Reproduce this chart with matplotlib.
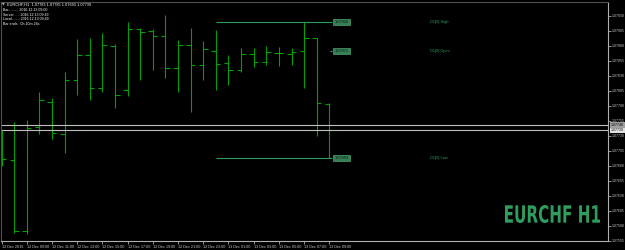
import matplotlib
matplotlib.use('Agg')
import matplotlib.pyplot as plt
import pandas as pd
from matplotlib.textpath import TextPath
from matplotlib.patches import PathPatch
from matplotlib.font_manager import FontProperties
from matplotlib.transforms import Affine2D

# EURCHF H1, 12 Dec 2016 07:00 .. 13 Dec 2016 09:00
opens  = [1.07707, 1.07690, 1.07571, 1.07745, 1.07787, 1.07733, 1.07823, 1.07865, 1.07810,
          1.07880, 1.07807, 1.07908, 1.07905, 1.07896, 1.07843, 1.07881, 1.07848, 1.07871,
          1.07851, 1.07840, 1.07866, 1.07853, 1.07868, 1.07866, 1.07871, 1.07893, 1.07783]
highs  = [1.07740, 1.07753, 1.07757, 1.07803, 1.07793, 1.07836, 1.07891, 1.07893, 1.07901,
          1.07883, 1.07920, 1.07910, 1.07908, 1.07931, 1.07890, 1.07910, 1.07888, 1.07906,
          1.07865, 1.07876, 1.07876, 1.07880, 1.07878, 1.07876, 1.07920, 1.07893, 1.07785]
lows   = [1.07679, 1.07569, 1.07566, 1.07733, 1.07725, 1.07702, 1.07798, 1.07790, 1.07803,
          1.07777, 1.07797, 1.07823, 1.07840, 1.07827, 1.07803, 1.07770, 1.07823, 1.07807,
          1.07815, 1.07836, 1.07845, 1.07848, 1.07846, 1.07848, 1.07810, 1.07730, 1.07693]
closes = [1.07692, 1.07571, 1.07743, 1.07790, 1.07735, 1.07823, 1.07865, 1.07810, 1.07881,
          1.07798, 1.07908, 1.07903, 1.07896, 1.07843, 1.07881, 1.07848, 1.07875, 1.07850,
          1.07840, 1.07866, 1.07853, 1.07870, 1.07868, 1.07870, 1.07893, 1.07785, 1.07739]
ask = 1.07748
day_start = 17  # first bar of 13 Dec
times = pd.date_range('2016-12-12 07:00', periods=len(closes), freq='h')

price_ticks = [1.07930 - 0.00025*k for k in range(16)]

green = '#00a000'
dgreen = '#2e9e5e'
small = 'Liberation Sans'

fig = plt.figure(figsize=(6.25, 2.5), dpi=100, facecolor='black')
ax = fig.add_axes([1/625, 9/250, 607/625, 239/250], facecolor='black')

px = 0.00025/15.05
ax.set_ylim(1.07930 - 225.3*px, 1.07930 + 13.7*px)
ax.set_xlim(-0.04, 48.1)

n = len(closes)
xs = list(range(n))
w = 0.36
ax.vlines(xs, lows, highs, color=green, lw=0.8)
ax.hlines(opens, [x - w for x in xs], xs, color=green, lw=0.8)
ax.hlines(closes, xs, [x + w for x in xs], color=green, lw=0.8)

# bid / ask lines
ax.axhline(closes[-1], color='#c0c0c0', lw=0.8)
ax.axhline(ask, color='#c0c0c0', lw=0.8)

# daily levels
d_high = max(highs[day_start:])
d_low = min(lows[day_start:])
d_open = opens[day_start]
xe = n - 1 + 0.2
ax.hlines([d_high, d_low], day_start, xe, color=dgreen, lw=0.8)
ax.hlines(d_open, n - 1 + 0.05, xe, color=dgreen, lw=0.8)
for v, name in [(d_high, 'High'), (d_open, 'Open'), (d_low, 'Low')]:
    ax.text(xe + 0.2, v, '%.5f' % v, fontsize=2.8, family=small, color='#0a1a10',
            va='center', ha='left',
            bbox=dict(boxstyle='square,pad=0.3', fc='#338055', ec='#4fa070', lw=0.5))
    ax.text(34.0, v, 'D1[0] ' + name, fontsize=2.8, family=small, color=dgreen,
            va='center', ha='left')

# axes styling
for s in ['left', 'top']:
    ax.spines[s].set_color('#505050')
ax.spines['right'].set_color('#b0b0b0')
ax.spines['bottom'].set_color('#b0b0b0')
ax.yaxis.tick_right()
ax.set_yticks(price_ticks)
ax.set_yticklabels(['%.5f' % v for v in price_ticks], family=small)
ax.tick_params(axis='y', colors='#c8c8c8', labelsize=2.5, length=2, width=0.5, pad=1)
tick_idx = xs[::2]
labels = []
for i in tick_idx:
    t = times[i]
    labels.append(t.strftime('%d %b %Y') if i == 0 else t.strftime('%d %b %H:%M'))
ax.set_xticks(tick_idx)
ax.set_xticklabels(labels, ha='left', family=small)
ax.tick_params(axis='x', colors='#c8c8c8', labelsize=2.7, length=2, width=0.5, pad=1)

# price labels on the right axis
for v, fc in [(ask, '#a0a0a0'), (closes[-1], '#e0e0e0')]:
    ax.annotate('%.5f' % v, xy=(1.0, v), xycoords=('axes fraction', 'data'),
                xytext=(2.2, 0), textcoords='offset points', fontsize=2.5, family=small,
                color='black', va='center', ha='left',
                bbox=dict(boxstyle='square,pad=0.2', fc=fc, ec='none'), annotation_clip=False)

# info text
fig.text(2/625, 1 - 4.7/250, '\u25bc', fontsize=2.5, color='#c8c8c8', va='center')
fig.text(7/625, 1 - 4.7/250, 'EURCHF,H1  %.5f %.5f %.5f %.5f' % (opens[-1], highs[-1], lows[-1], closes[-1]),
         fontsize=2.8, family=small, color='white', va='center')
info = ['Bar.........: 2016.12.13 09:00', 'Server.....: 2016.12.13 09:49',
        'Local.......: 2016.12.13 09:49', 'Bar ends.: 0h 10m 24s']
for k, line in enumerate(info):
    fig.text(3/625, 1 - (10 + 4.7*k)/250, line, fontsize=2.6, family=small, color='white', va='center')

# watermark, condensed bold
tp = TextPath((0, 0), 'EURCHF H1', size=1, prop=FontProperties(family='DejaVu Sans', weight='bold'))
ext = tp.get_extents()
sx = 95 / ext.width
sy = 18 / ext.height
tr = Affine2D().translate(-ext.x0, -ext.y0).scale(sx/625, sy/250).translate(505/625, 27/250)
fig.add_artist(PathPatch(tp, transform=tr + fig.transFigure, fc=dgreen, ec='none'))

fig.savefig('out.png', dpi=100, facecolor='black')
